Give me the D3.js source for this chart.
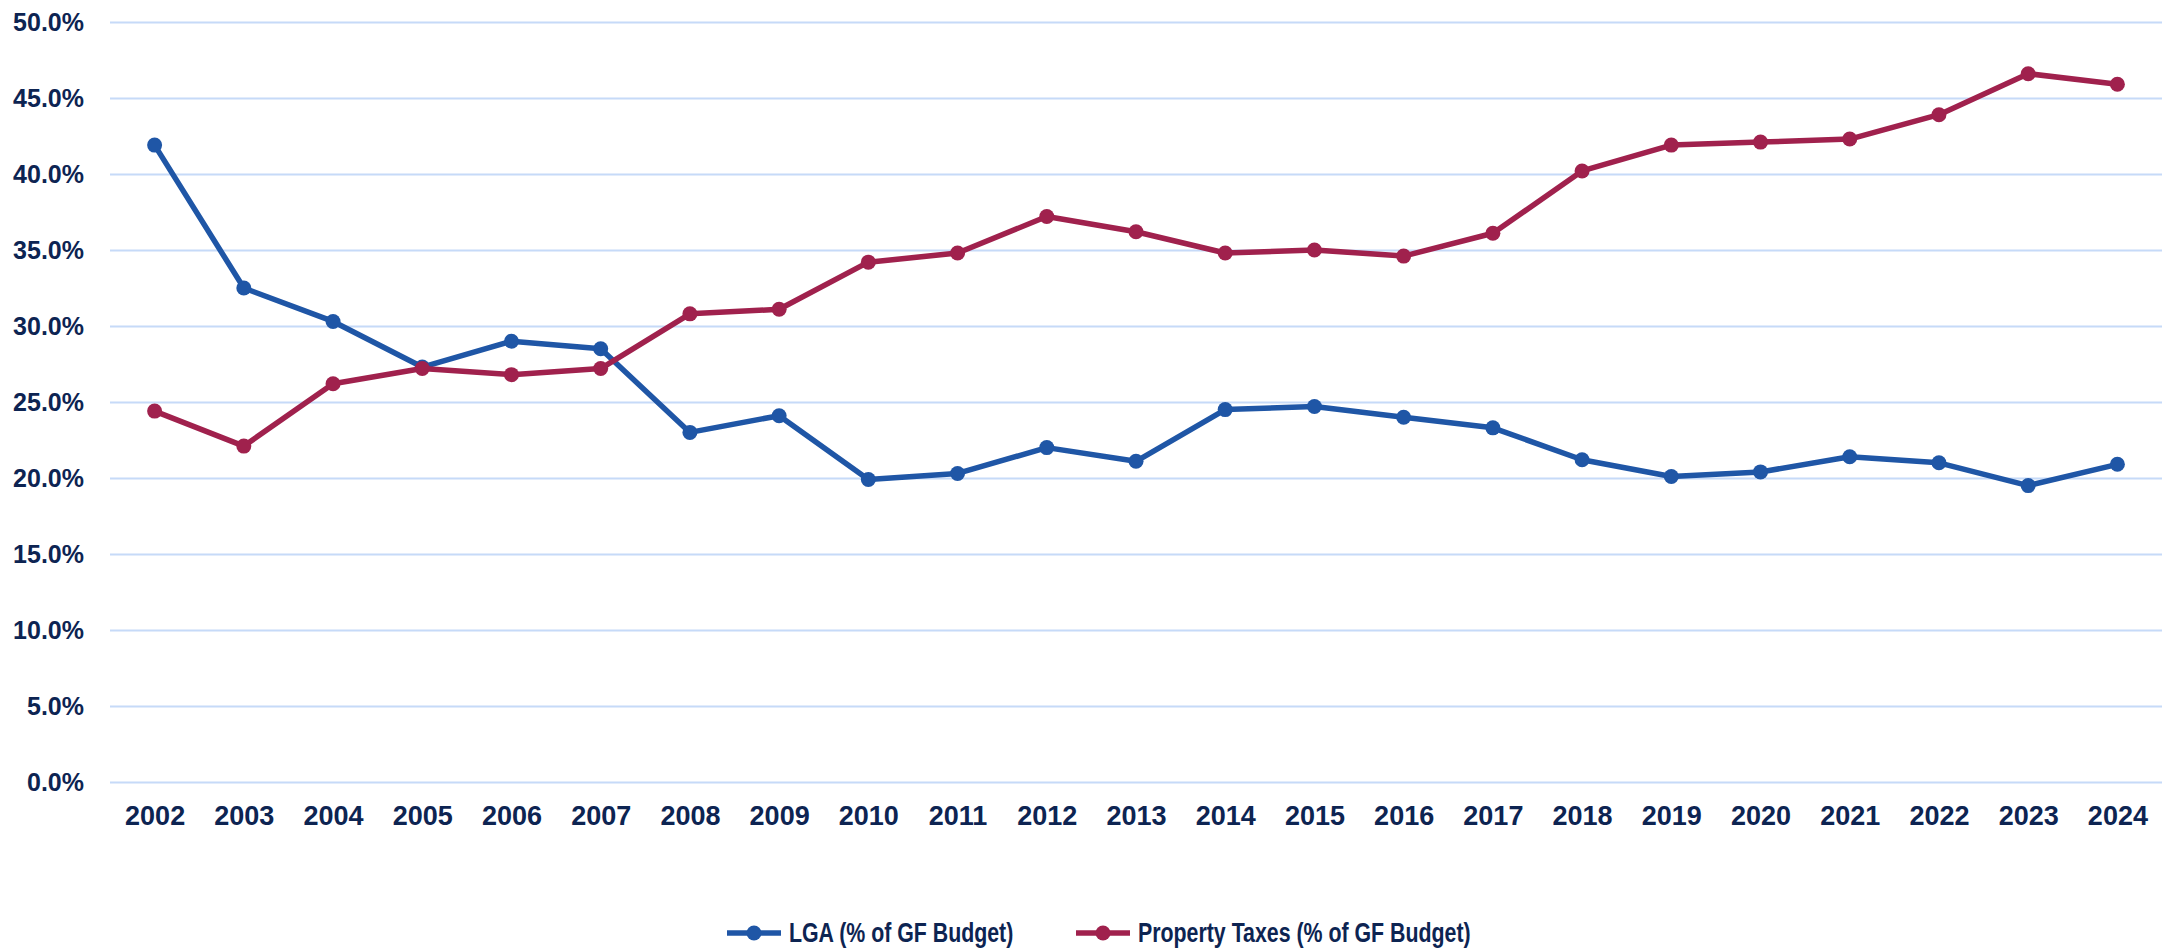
<!DOCTYPE html>
<html>
<head>
<meta charset="utf-8">
<script src="https://cdn.jsdelivr.net/npm/d3@7"></script>
<style>
  body { margin: 0; background: #fff; }
  svg { display: block; }
  .tick text { font-family: "Liberation Sans", Arial, sans-serif; font-weight: bold; fill: #0d2452; }
  .legend text { font-family: "Liberation Sans", Arial, sans-serif; font-weight: bold; font-size: 27px; fill: #0d2452; }
</style>
</head>
<body>
<svg id="chart"></svg>
<script>
// Années et séries (en %)
const years = [2002, 2003, 2004, 2005, 2006, 2007, 2008, 2009, 2010, 2011, 2012, 2013,
               2014, 2015, 2016, 2017, 2018, 2019, 2020, 2021, 2022, 2023, 2024];
const lga = [41.9, 32.5, 30.3, 27.3, 29.0, 28.5, 23.0, 24.1, 19.9, 20.3, 22.0, 21.1,
             24.5, 24.7, 24.0, 23.3, 21.2, 20.1, 20.4, 21.4, 21.0, 19.5, 20.9];
const propertyTaxes = [24.4, 22.1, 26.2, 27.2, 26.8, 27.2, 30.8, 31.1, 34.2, 34.8, 37.2, 36.2,
                       34.8, 35.0, 34.6, 36.1, 40.2, 41.9, 42.1, 42.3, 43.9, 46.6, 45.9];
const yTicks = [0, 5, 10, 15, 20, 25, 30, 35, 40, 45, 50];
const seriesNames = ["LGA (% of GF Budget)", "Property Taxes (% of GF Budget)"];

const W = 2173, H = 948;
const margin = { top: 22, right: 11, bottom: 166, left: 110 };
const width = W - margin.left - margin.right;
const height = H - margin.top - margin.bottom;

const colors = ["#1f56a6", "#a0214d"];

const svg = d3.select("#chart").attr("width", W).attr("height", H);
const g = svg.append("g").attr("transform", `translate(${margin.left},${margin.top})`);

const x = d3.scalePoint().domain(years).range([0, width]).padding(0.5);
const y = d3.scaleLinear().domain([0, 50]).range([height, 0]);

// Grille + axe Y
const yAxis = g.append("g")
    .call(d3.axisLeft(y).tickValues(yTicks).tickSize(-width).tickPadding(26)
        .tickFormat(d => d.toFixed(1) + "%"));
yAxis.select(".domain").remove();
yAxis.selectAll(".tick line").attr("stroke", "#c6daf8").attr("stroke-width", 2);
yAxis.selectAll(".tick text").style("font-size", "25px");

// Axe X
const xAxis = g.append("g")
    .attr("transform", `translate(0,${height})`)
    .call(d3.axisBottom(x).tickSize(0).tickPadding(24).tickFormat(d3.format("d")));
xAxis.select(".domain").remove();
xAxis.selectAll(".tick text").style("font-size", "27px");

const series = [lga, propertyTaxes];
const line = d3.line().x((d, i) => x(years[i])).y(d => y(d));

series.forEach((vals, k) => {
    g.append("path")
        .datum(vals)
        .attr("fill", "none")
        .attr("stroke", colors[k])
        .attr("stroke-width", 5.5)
        .attr("stroke-linejoin", "round")
        .attr("d", line);
    g.selectAll(".pt" + k)
        .data(vals)
        .enter().append("circle")
        .attr("cx", (d, i) => x(years[i]))
        .attr("cy", d => y(d))
        .attr("r", 7.5)
        .attr("fill", colors[k]);
});

// Légende (texte condensé)
const legend = svg.append("g").attr("class", "legend").attr("transform", "translate(0,933)");
const legendX = [727, 1076];
seriesNames.forEach((name, k) => {
    const lg = legend.append("g").attr("transform", `translate(${legendX[k]},0)`);
    lg.append("line").attr("x1", 0).attr("x2", 54).attr("y1", 0).attr("y2", 0)
        .attr("stroke", colors[k]).attr("stroke-width", 5.5);
    lg.append("circle").attr("cx", 27).attr("cy", 0).attr("r", 7.5).attr("fill", colors[k]);
    lg.append("text")
        .attr("transform", "translate(62,0) scale(0.79,1)")
        .attr("dy", "0.35em")
        .text(name);
});
</script>
</body>
</html>
